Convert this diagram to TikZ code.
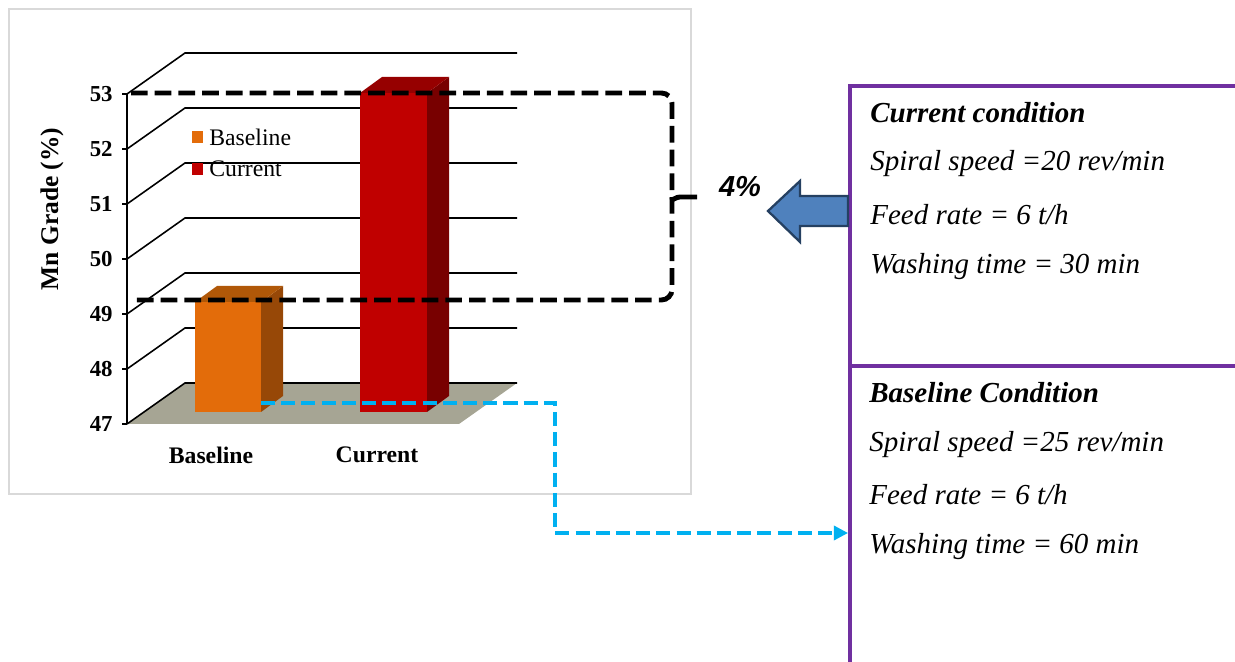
\documentclass[tikz,border=0pt]{standalone}
\usepackage{fontspec}
\setmainfont{Liberation Serif}
\setsansfont{Liberation Sans}
\usetikzlibrary{arrows.meta}

\definecolor{barorange}{RGB}{227,108,10}
\definecolor{barorangeside}{RGB}{151,72,7}
\definecolor{barorangetop}{RGB}{176,88,8}
\definecolor{barred}{RGB}{192,0,0}
\definecolor{barredside}{RGB}{120,0,0}
\definecolor{barredtop}{RGB}{150,0,0}
\definecolor{floorgray}{RGB}{166,165,148}
\definecolor{framegray}{RGB}{217,217,217}
\definecolor{condpurple}{RGB}{112,48,160}
\definecolor{arrowblue}{RGB}{79,129,189}
\definecolor{arrowedge}{RGB}{37,64,97}
\definecolor{linkblue}{RGB}{0,176,240}

\begin{document}
\begin{tikzpicture}[
  x=0.02cm, y=-0.02cm,
  gridline/.style={draw=black, line width=0.9pt},
  ticklbl/.style={font=\fontsize{13}{15}\selectfont\bfseries, anchor=east, inner sep=0pt},
  catlbl/.style={font=\fontsize{13.5}{15}\selectfont\bfseries, inner sep=0pt},
  legtxt/.style={font=\fontsize{13.5}{15}\selectfont, anchor=west, inner sep=0pt},
  condbox/.style={draw=condpurple, line width=2pt, anchor=north west, minimum width=8cm, inner sep=0pt},
  condhead/.style={font=\fontsize{16.5}{19}\selectfont\bfseries\itshape, anchor=west, inner sep=0pt},
  condline/.style={font=\fontsize{16.5}{19}\selectfont\itshape, anchor=west, inner sep=0pt},
  rangeline/.style={draw=black, line width=2.8pt, dash pattern=on 9.5pt off 4pt},
  bluelink/.style={draw=linkblue, line width=1.8pt, dash pattern=on 8pt off 3.5pt}
]
  \useasboundingbox (0,0) rectangle (1235,662);

  % chart frame and floor
  \draw[framegray, line width=1.4pt] (9,9) rectangle (691,494);
  \fill[floorgray] (127,424) -- (185,383) -- (517,383) -- (459,424) -- cycle;
  \draw[gridline] (127,424) -- (185,383) -- (517,383);
  \foreach \i in {1,...,6}
    \draw[gridline] (127,{424-55*\i}) -- ++(58,-41) -- (517,{383-55*\i});
  \draw[gridline] (127,94) -- (127,424);
  \foreach \v [count=\i from 0] in {47,...,53} {
    \draw[gridline] (122,{424-55*\i}) -- (127,{424-55*\i});
    \node[ticklbl] (tick\v) at (113,{424-55*\i}) {\v};
  }
  \node[font=\fontsize{14.5}{16}\selectfont\bfseries, rotate=90] (ytitle) at (52,209) {Mn Grade (\%)};

  % bars
  \fill[barorange] (195,302) rectangle (261,412);
  \fill[barorangeside] (261,412) -- (261,302) -- (283,286) -- (283,396) -- cycle;
  \fill[barorangetop] (195,302) -- (217,286) -- (283,286) -- (261,302) -- cycle;
  \fill[barred] (360,93) rectangle (427,412);
  \fill[barredside] (427,412) -- (427,93) -- (449,77) -- (449,396) -- cycle;
  \fill[barredtop] (360,93) -- (382,77) -- (449,77) -- (427,93) -- cycle;

  \node[catlbl] (catbase) at (211,455) {Baseline};
  \node[catlbl] (catcur) at (377,455) {Current};

  % legend
  \fill[barorange] (192,131) rectangle (203,143);
  \node[legtxt] (legbase) at (209,137) {Baseline};
  \fill[barred] (192,163) rectangle (203,175);
  \node[legtxt] (legcur) at (209,169) {Current};

  % range between the two grades
  \draw[rangeline, rounded corners=6pt] (131,93) -- (672,93) -- (672,300) -- (131,300);
  \draw[line width=2.8pt] (670,200) to[out=0,in=180] (680,197) -- (697,197);
  \node[font=\fontsize{16.5}{19}\selectfont\sffamily\bfseries\itshape] (gain) at (740,187) {4\%};

  % condition boxes
  \node[condbox, minimum height=5.6cm] (curbox) at (848,84) {};
  \node[condbox, minimum height=6.6cm] (basebox) at (848,364) {};

  \node[condhead] (curhead) at (870,113) {Current condition};
  \node[condline] (curspeed) at (870,164) {Spiral speed =20 rev/min};
  \node[condline] (curfeed) at (870,215) {Feed rate = 6 t/h};
  \node[condline] (curwash) at (870,267) {Washing time = 30 min};

  \node[condhead] (basehead) at (869,393) {Baseline Condition};
  \node[condline] (basespeed) at (869,445) {Spiral speed =25 rev/min};
  \node[condline] (basefeed) at (869,495) {Feed rate = 6 t/h};
  \node[condline] (basewash) at (869,547) {Washing time = 60 min};

  % block arrow
  \filldraw[fill=arrowblue, draw=arrowedge, line width=1.3pt]
    (848,196) -- (800,196) -- (800,181) -- (768,211) -- (800,242) -- (800,226) -- (848,226) -- cycle;

  % link from baseline bar
  \coordinate (bstart) at (261,403);
  \coordinate (bturn) at (555,533);
  \draw[bluelink, -{Triangle[length=8pt,width=8pt]}] (bstart) -| (bturn) -- (bturn -| basebox.west);
\end{tikzpicture}
\end{document}
